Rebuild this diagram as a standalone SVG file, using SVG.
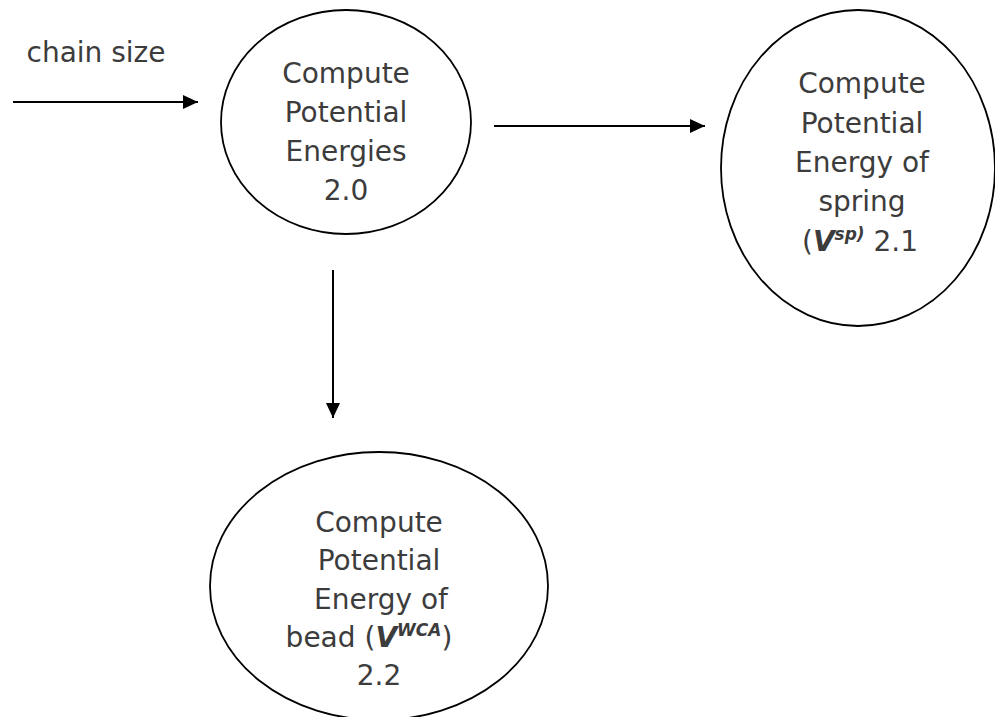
<svg xmlns="http://www.w3.org/2000/svg" width="995" height="717" viewBox="0 0 995 717">
<defs>
<marker id="ah" viewBox="0 0 15 14" refX="15" refY="7" markerWidth="15" markerHeight="14" markerUnits="userSpaceOnUse" orient="auto">
<path d="M0,0 L15,7 L0,14 Z" fill="#000"/>
</marker>
</defs>
<style>
.node ellipse{fill:#fff;stroke:#000;stroke-width:1.8}
text{font-family:"DejaVu Sans","Noto Sans",sans-serif;font-size:28px;fill:#3c3c3c;text-anchor:middle}
.v{font-weight:bold;font-style:italic}
.sup{font-size:17px;font-weight:bold;font-style:italic}
.conn line{stroke:#000;stroke-width:2;marker-end:url(#ah)}
</style>
<rect width="995" height="717" fill="#fff"/>
<g id="n20" class="node">
<ellipse cx="346" cy="122" rx="125" ry="112"/>
<text x="346" y="83">Compute</text>
<text x="346" y="122">Potential</text>
<text x="346" y="161">Energies</text>
<text x="346" y="200">2.0</text>
</g>
<g id="n21" class="node">
<ellipse cx="858" cy="168" rx="137" ry="158"/>
<text x="862" y="93">Compute</text>
<text x="862" y="133">Potential</text>
<text x="862" y="172">Energy of</text>
<text x="862" y="211">spring</text>
<text x="860" y="251">(<tspan class="v">V</tspan><tspan class="sup" dy="-11">sp)</tspan><tspan dy="11"> 2.1</tspan></text>
</g>
<g id="n22" class="node">
<ellipse cx="379" cy="586" rx="169" ry="134"/>
<text x="379" y="532">Compute</text>
<text x="379" y="570">Potential</text>
<text x="381" y="609">Energy of</text>
<text x="369" y="647">bead (<tspan class="v">V</tspan><tspan class="sup" dy="-11">WCA</tspan><tspan dy="11">)</tspan></text>
<text x="379" y="685">2.2</text>
</g>
<g id="label-chain">
<text x="96" y="62">chain size</text>
</g>
<g id="connectors" class="conn">
<line x1="13" y1="102" x2="198" y2="102"/>
<line x1="494" y1="126" x2="705" y2="126"/>
<line x1="333" y1="270" x2="333" y2="418"/>
</g>
</svg>
